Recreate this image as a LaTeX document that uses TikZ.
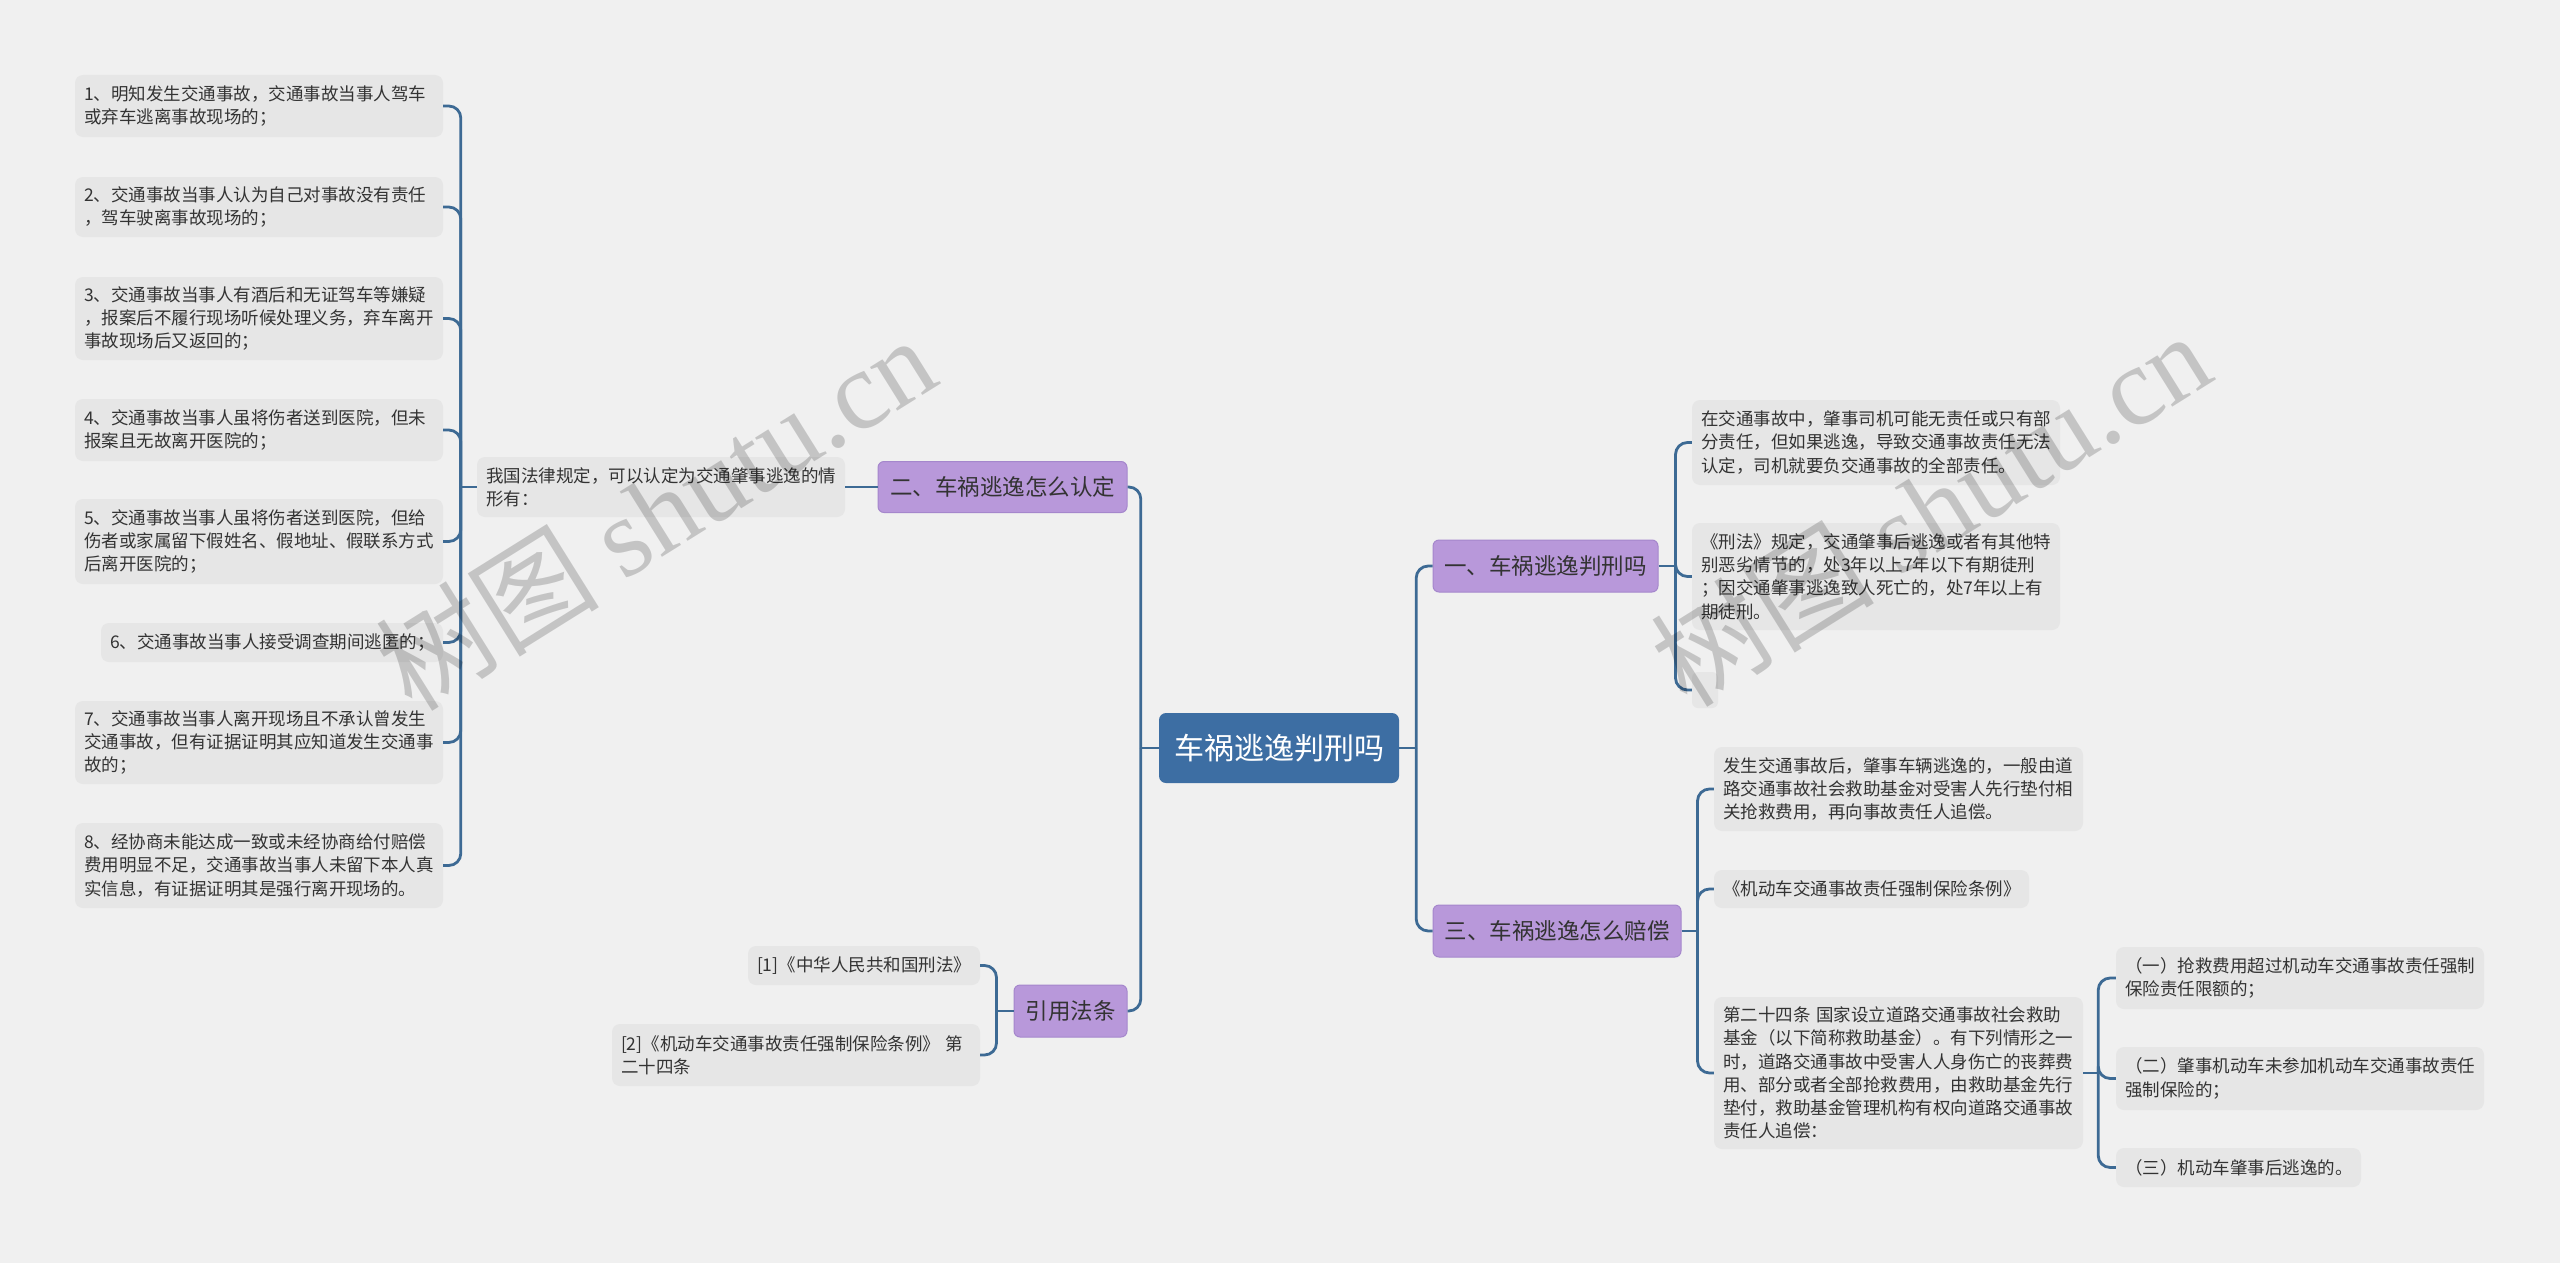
\documentclass[tikz,border=0pt]{standalone}
\usepackage{fontspec}
\setmainfont{Noto Sans CJK SC}
\newfontfamily\wmserif{Liberation Serif}
\usetikzlibrary{calc}
\definecolor{bgc}{HTML}{F0F0F0}
\definecolor{leafc}{HTML}{E6E6E6}
\definecolor{connc}{HTML}{3D6A94}
\definecolor{rootc}{HTML}{3D6EA3}
\definecolor{purpc}{HTML}{B898DA}
\definecolor{purpline}{HTML}{A587CC}
\definecolor{txtc}{HTML}{333333}
\begin{document}
\begin{tikzpicture}[x=1pt,y=-1pt,
  leafbox/.style={fill=leafc, rounded corners=8pt, inner xsep=9pt, inner ysep=0pt,
    align=left, text=txtc, font=\fontsize{17.5}{23.3}\selectfont, anchor=center},
  purpbox/.style={fill=purpc, draw=purpline, line width=1pt, rounded corners=6pt,
    inner sep=0pt, align=center, text=txtc, font=\fontsize{22.5}{27}\selectfont},
  rootbox/.style={fill=rootc, rounded corners=7pt, inner sep=0pt, align=center,
    text=white, font=\fontsize{30}{34}\selectfont},
  link/.style={draw=connc, line width=2.8pt, rounded corners=12pt},
  wmark/.style={rotate=32, text=black, opacity=0.18, inner sep=0pt}
]
\useasboundingbox[fill=bgc] (0,0) rectangle (2560,1263);

% root
\node[rootbox, minimum width=240pt, minimum height=70pt] (C) at (1279,748) {车祸逃逸判刑吗};

% purple branch nodes
\node[purpbox, minimum width=249pt, minimum height=51pt] (P2) at (1002.5,487) {二、车祸逃逸怎么认定};
\node[purpbox, minimum width=113pt, minimum height=52pt] (P4) at (1070.5,1011) {引用法条};
\node[purpbox, minimum width=225pt, minimum height=52pt] (P1) at (1545.5,566) {一、车祸逃逸判刑吗};
\node[purpbox, minimum width=248pt, minimum height=52pt] (P3) at (1557,931) {三、车祸逃逸怎么赔偿};

% left side
\node[leafbox, text width=350pt, minimum height=60pt] (T) at (661,487) {我国法律规定，可以认定为交通肇事逃逸的情\\形有：};

\node[leafbox, text width=350pt, minimum height=62pt] (L1) at (259,106) {1、明知发生交通事故，交通事故当事人驾车\\或弃车逃离事故现场的；};
\node[leafbox, text width=350pt, minimum height=60pt] (L2) at (259,207) {2、交通事故当事人认为自己对事故没有责任\\，驾车驶离事故现场的；};
\node[leafbox, text width=350pt, minimum height=83pt] (L3) at (259,318.5) {3、交通事故当事人有酒后和无证驾车等嫌疑\\，报案后不履行现场听候处理义务，弃车离开\\事故现场后又返回的；};
\node[leafbox, text width=350pt, minimum height=62pt] (L4) at (259,430) {4、交通事故当事人虽将伤者送到医院，但未\\报案且无故离开医院的；};
\node[leafbox, text width=350pt, minimum height=85pt] (L5) at (259,541.5) {5、交通事故当事人虽将伤者送到医院，但给\\伤者或家属留下假姓名、假地址、假联系方式\\后离开医院的；};
\node[leafbox, text width=324pt, minimum height=39pt] (L6) at (272,642.5) {6、交通事故当事人接受调查期间逃匿的；};
\node[leafbox, text width=350pt, minimum height=83pt] (L7) at (259,742.5) {7、交通事故当事人离开现场且不承认曾发生\\交通事故，但有证据证明其应知道发生交通事\\故的；};
\node[leafbox, text width=350pt, minimum height=85pt] (L8) at (259,865.5) {8、经协商未能达成一致或未经协商给付赔偿\\费用明显不足，交通事故当事人未留下本人真\\实信息，有证据证明其是强行离开现场的。};

\node[leafbox, text width=214pt, minimum height=39pt] (R1) at (864,965.5) {[1]《中华人民共和国刑法》};
\node[leafbox, text width=350pt, minimum height=62pt] (R2) at (796,1055) {[2]《机动车交通事故责任强制保险条例》 第\\二十四条};

% right side
\node[leafbox, text width=350pt, minimum height=85pt] (A) at (1876,442.5) {在交通事故中，肇事司机可能无责任或只有部\\分责任，但如果逃逸，导致交通事故责任无法\\认定，司机就要负交通事故的全部责任。};
\node[leafbox, text width=350pt, minimum height=107pt] (B) at (1876,576.5) {《刑法》规定，交通肇事后逃逸或者有其他特\\别恶劣情节的，处3年以上7年以下有期徒刑\\；因交通肇事逃逸致人死亡的，处7年以上有\\期徒刑。};
\node[leafbox, inner xsep=0pt, minimum width=26pt, minimum height=36pt, rounded corners=6pt] (E0) at (1705,690) {};

\node[leafbox, text width=351pt, minimum height=84pt] (D) at (1898.5,789) {发生交通事故后，肇事车辆逃逸的，一般由道\\路交通事故社会救助基金对受害人先行垫付相\\关抢救费用，再向事故责任人追偿。};
\node[leafbox, text width=297pt, minimum height=38pt] (E) at (1871.5,889) {《机动车交通事故责任强制保险条例》};
\node[leafbox, text width=351pt, minimum height=152pt] (F) at (1898.5,1073) {第二十四条 国家设立道路交通事故社会救助\\基金（以下简称救助基金）。有下列情形之一\\时，道路交通事故中受害人人身伤亡的丧葬费\\用、部分或者全部抢救费用，由救助基金先行\\垫付，救助基金管理机构有权向道路交通事故\\责任人追偿：};

\node[leafbox, text width=350pt, minimum height=62pt] (G) at (2300,978) {（一）抢救费用超过机动车交通事故责任强制\\保险责任限额的；};
\node[leafbox, text width=350pt, minimum height=63pt] (H) at (2300,1078.5) {（二）肇事机动车未参加机动车交通事故责任\\强制保险的；};
\node[leafbox, text width=227pt, minimum height=39pt] (I) at (2238.5,1167.5) {（三）机动车肇事后逃逸的。};

% connectors: root
\coordinate (cL) at ($(C.west)+(-18,0)$);
\coordinate (cR) at ($(C.east)+(17,0)$);
\draw[link] (C.west) -- (cL);
\draw[link] (cL) |- (P2.east);
\draw[link] (cL) |- (P4.east);
\draw[link] (C.east) -- (cR);
\draw[link] (cR) |- (P1.west);
\draw[link] (cR) |- (P3.west);

% P2 -> T -> leaves
\draw[link] (P2.west) -- (T.east);
\coordinate (tL) at ($(T.west)+(-16,0)$);
\draw[link] (T.west) -- (tL);
\foreach \n in {L1,L2,L3,L4,L5,L6,L7,L8} { \draw[link] (tL) |- (\n.east); }

% P4 -> refs
\coordinate (rL) at ($(P4.west)+(-17,0)$);
\draw[link] (P4.west) -- (rL);
\draw[link] (rL) |- (R1.east);
\draw[link] (rL) |- (R2.east);

% P1 -> A,B,E0
\coordinate (aR) at ($(P1.east)+(17,0)$);
\draw[link] (P1.east) -- (aR);
\foreach \n in {A,B,E0} { \draw[link] (aR) |- (\n.west); }

% P3 -> D,E,F
\coordinate (dR) at ($(P3.east)+(16,0)$);
\draw[link] (P3.east) -- (dR);
\foreach \n in {D,E,F} { \draw[link] (dR) |- (\n.west); }

% F -> G,H,I
\coordinate (gR) at ($(F.east)+(15,0)$);
\draw[link] (F.east) -- (gR);
\foreach \n in {G,H,I} { \draw[link] (gR) |- (\n.west); }

% watermarks
\node[wmark, font=\fontsize{112}{112}\selectfont] (W1) at (655,512) {树图 {\wmserif shutu.cn}};
\node[wmark, font=\fontsize{112}{112}\selectfont] (W2) at (1930,508) {树图 {\wmserif shutu.cn}};
\end{tikzpicture}
\end{document}
